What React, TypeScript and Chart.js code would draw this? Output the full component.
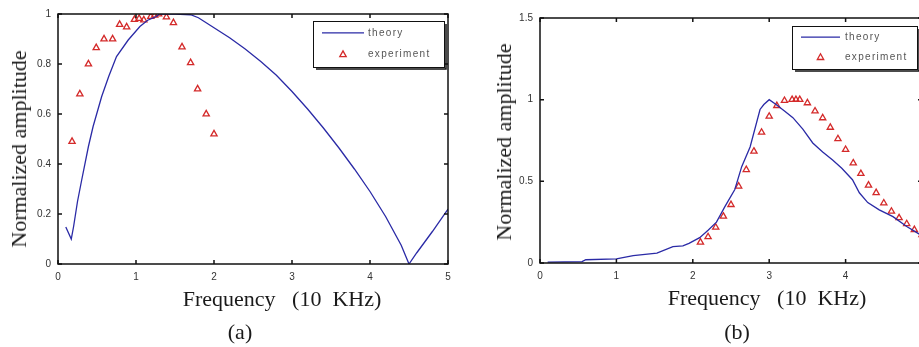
import React, { useEffect, useRef } from "react";
import { Chart, registerables } from "chart.js";

Chart.register(...registerables);

// ---------- Data ----------
const xTicks = [0, 1, 2, 3, 4, 5];
const leftYTicks = [0, 0.2, 0.4, 0.6, 0.8, 1];
const rightYTicks = [0, 0.5, 1, 1.5];

const leftTheoryX = [0.1, 0.17, 0.2, 0.25, 0.3, 0.39, 0.45, 0.56, 0.65, 0.75, 0.9, 1.05, 1.15, 1.26, 1.3, 1.5, 1.7, 1.8, 1.9, 2.0, 2.2, 2.4, 2.6, 2.8, 3.0, 3.2, 3.4, 3.6, 3.8, 4.0, 4.2, 4.4, 4.5, 4.6, 4.8, 5.0];
const leftTheoryY = [0.148, 0.1, 0.15, 0.25, 0.33, 0.47, 0.55, 0.67, 0.75, 0.83, 0.896, 0.95, 0.975, 0.99, 1.0, 1.0, 0.997, 0.985, 0.965, 0.945, 0.905, 0.86, 0.81, 0.755, 0.69, 0.62, 0.545, 0.465, 0.38, 0.29, 0.19, 0.075, 0.0, 0.045, 0.13, 0.22];

const leftExpX = [0.18, 0.28, 0.39, 0.49, 0.59, 0.7, 0.79, 0.88, 0.98, 1.04, 1.1, 1.19, 1.24, 1.29, 1.39, 1.48, 1.59, 1.7, 1.79, 1.9, 2.0];
const leftExpY = [0.49, 0.68, 0.8, 0.865, 0.9, 0.9, 0.958, 0.948, 0.978, 0.982, 0.976, 0.99, 0.995, 1.0, 0.988, 0.965, 0.868, 0.805, 0.7, 0.6, 0.52];

const rightTheoryX = [0.1, 0.55, 0.6, 1.0, 1.22, 1.53, 1.74, 1.87, 1.95, 2.09, 2.2, 2.31, 2.42, 2.55, 2.64, 2.75, 2.88, 2.93, 3.0, 3.09, 3.2, 3.31, 3.44, 3.57, 3.7, 3.83, 3.95, 4.09, 4.18, 4.29, 4.44, 4.62, 4.8, 4.97];
const rightTheoryY = [0.005, 0.008, 0.02, 0.025, 0.045, 0.06, 0.1, 0.105, 0.12, 0.155, 0.2, 0.25, 0.345, 0.45, 0.59, 0.71, 0.94, 0.97, 1.0, 0.97, 0.93, 0.89, 0.82, 0.735, 0.68, 0.63, 0.58, 0.51, 0.43, 0.37, 0.325, 0.284, 0.223, 0.175];

const rightExpX = [2.1, 2.2, 2.3, 2.4, 2.5, 2.6, 2.7, 2.8, 2.9, 3.0, 3.1, 3.2, 3.3, 3.35, 3.4, 3.5, 3.6, 3.7, 3.8, 3.9, 4.0, 4.1, 4.2, 4.3, 4.4, 4.5, 4.6, 4.7, 4.8, 4.9, 5.0];
const rightExpY = [0.127, 0.16, 0.218, 0.286, 0.357, 0.47, 0.571, 0.684, 0.8, 0.898, 0.963, 0.994, 1.0, 1.0, 1.0, 0.98, 0.93, 0.888, 0.83, 0.76, 0.694, 0.612, 0.547, 0.476, 0.43, 0.367, 0.316, 0.276, 0.24, 0.204, 0.173];

const seriesNames = ["theory", "experiment"];
const xTitle = "Frequency   (10  KHz)";
const yTitle = "Normalized amplitude";

const BLUE = "#2a2aa6";
const RED = "#d42a2a";

const zip = (xs: number[], ys: number[]) => xs.map((x, i) => ({ x, y: ys[i] }));
const fmt = (v: any) => String(Number(Number(v).toFixed(2)));

// ---------- Plugins ----------
const boxTicksPlugin = {
  id: "boxTicks",
  afterDraw(chart: any) {
    const { ctx, chartArea: a, scales } = chart;
    const len = 4;
    ctx.save();
    ctx.strokeStyle = "#111";
    ctx.lineWidth = 1.5;
    ctx.beginPath();
    scales.x.ticks.forEach((t: any) => {
      const px = scales.x.getPixelForValue(t.value);
      ctx.moveTo(px, a.bottom);
      ctx.lineTo(px, a.bottom - len);
      ctx.moveTo(px, a.top);
      ctx.lineTo(px, a.top + len);
    });
    scales.y.ticks.forEach((t: any) => {
      const py = scales.y.getPixelForValue(t.value);
      ctx.moveTo(a.left, py);
      ctx.lineTo(a.left + len, py);
      ctx.moveTo(a.right, py);
      ctx.lineTo(a.right - len, py);
    });
    ctx.stroke();
    ctx.strokeRect(a.left, a.top, a.right - a.left, a.bottom - a.top);
    ctx.restore();
  },
};

const innerLegendPlugin = {
  id: "innerLegend",
  afterDraw(chart: any, _args: any, opts: any) {
    const { ctx, chartArea: a } = chart;
    const w = opts.width, h = opts.height;
    const left = a.right - opts.right - w;
    const top = a.top + opts.top;
    ctx.save();
    ctx.fillStyle = "#fff";
    ctx.fillRect(left, top, w, h);
    ctx.strokeStyle = "#111";
    ctx.lineWidth = 1;
    ctx.strokeRect(left + 0.5, top + 0.5, w, h);
    ctx.lineWidth = 1.5;
    ctx.beginPath();
    ctx.moveTo(left + w + 2, top + 3);
    ctx.lineTo(left + w + 2, top + h + 2);
    ctx.lineTo(left + 3, top + h + 2);
    ctx.stroke();
    const ds = chart.data.datasets;
    const y1 = top + h * 0.26;
    const y2 = top + h * 0.72;
    ctx.strokeStyle = ds[0].borderColor;
    ctx.lineWidth = 1.3;
    ctx.beginPath();
    ctx.moveTo(left + 9, y1);
    ctx.lineTo(left + opts.lineLen + 9, y1);
    ctx.stroke();
    const mx = left + 9 + opts.lineLen / 2;
    const r = 3.2;
    ctx.strokeStyle = ds[1].borderColor;
    ctx.lineWidth = 1.3;
    ctx.beginPath();
    ctx.moveTo(mx, y2 - r);
    ctx.lineTo(mx + r, y2 + r * 0.8);
    ctx.lineTo(mx - r, y2 + r * 0.8);
    ctx.closePath();
    ctx.stroke();
    ctx.fillStyle = "#555";
    ctx.font = "10px 'Liberation Sans', Arial, sans-serif";
    (ctx as any).letterSpacing = "1.3px";
    ctx.textBaseline = "middle";
    ctx.textAlign = "left";
    ctx.fillText(ds[0].label, left + opts.textX, y1);
    ctx.fillText(ds[1].label, left + opts.textX, y2);
    ctx.restore();
  },
};

type PanelProps = {
  theoryX: number[];
  theoryY: number[];
  expX: number[];
  expY: number[];
  yTicks: number[];
  yMax: number;
  width: number;
  padTop: number;
  padRight: number;
  yWidth: number;
  xHeight: number;
  legend: any;
};

function Panel(p: PanelProps) {
  const ref = useRef<HTMLCanvasElement | null>(null);
  useEffect(() => {
    if (!ref.current) return;
    const tickFont = { family: "'Liberation Sans', Arial, sans-serif", size: 10 };
    const chart = new Chart(ref.current, {
      type: "scatter",
      data: {
        datasets: [
          {
            label: seriesNames[0],
            data: zip(p.theoryX, p.theoryY),
            showLine: true,
            borderColor: BLUE,
            backgroundColor: BLUE,
            borderWidth: 1.3,
            pointRadius: 0,
            tension: 0,
          },
          {
            label: seriesNames[1],
            data: zip(p.expX, p.expY),
            showLine: false,
            pointStyle: "triangle",
            pointRadius: 3.6,
            borderColor: RED,
            backgroundColor: "rgba(255,255,255,0)",
            pointBorderWidth: 1.3,
          } as any,
        ],
      },
      options: {
        animation: false,
        responsive: false,
        maintainAspectRatio: false,
        events: [],
        layout: { padding: { left: 0, top: p.padTop, right: p.padRight, bottom: 0 } },
        plugins: {
          legend: { display: false },
          title: { display: false },
          tooltip: { enabled: false },
          innerLegend: p.legend,
        } as any,
        scales: {
          x: {
            type: "linear",
            min: 0,
            max: 5,
            grid: { display: false, drawTicks: false },
            border: { display: false },
            afterBuildTicks: (s: any) => {
              s.ticks = xTicks.map((v) => ({ value: v }));
            },
            afterFit: (s: any) => {
              s.height = p.xHeight;
            },
            ticks: { autoSkip: false, maxRotation: 0, padding: 7, color: "#333", font: tickFont, callback: fmt },
          },
          y: {
            type: "linear",
            min: 0,
            max: p.yMax,
            grid: { display: false, drawTicks: false },
            border: { display: false },
            afterBuildTicks: (s: any) => {
              s.ticks = p.yTicks.map((v) => ({ value: v }));
            },
            afterFit: (s: any) => {
              s.width = p.yWidth;
            },
            ticks: { autoSkip: false, padding: 7, color: "#333", font: tickFont, callback: fmt },
          },
        },
      },
      plugins: [boxTicksPlugin, innerLegendPlugin],
    });
    return () => chart.destroy();
  }, []);
  return <canvas ref={ref} width={p.width} height={347} style={{ display: "block", width: p.width, height: 347 }} />;
}

const serif = "'Liberation Serif', 'Times New Roman', serif";

function Label(props: { x: number; y: number; text: string; size: number; rotate?: boolean }) {
  return (
    <div
      style={{
        position: "absolute",
        left: props.x,
        top: props.y,
        transform: `translate(-50%, -50%)${props.rotate ? " rotate(-90deg)" : ""}`,
        fontFamily: serif,
        fontSize: props.size,
        color: "#1a1a1a",
        whiteSpace: "pre",
        lineHeight: 1,
      }}
    >
      {props.text}
    </div>
  );
}

export default function App() {
  return (
    <div
      style={{
        position: "fixed",
        left: 0,
        top: 0,
        width: 919,
        height: 347,
        overflow: "hidden",
        background: "#fff",
      }}
    >
      <div style={{ position: "absolute", left: 0, top: 0 }}>
        <Panel
          theoryX={leftTheoryX}
          theoryY={leftTheoryY}
          expX={leftExpX}
          expY={leftExpY}
          yTicks={leftYTicks}
          yMax={1}
          width={460}
          padTop={14}
          padRight={12}
          yWidth={58}
          xHeight={83}
          legend={{ width: 131, height: 46, right: 4, top: 7, lineLen: 42, textX: 55 }}
        />
      </div>
      <div style={{ position: "absolute", left: 460, top: 0 }}>
        <Panel
          theoryX={rightTheoryX}
          theoryY={rightTheoryY}
          expX={rightExpX}
          expY={rightExpY}
          yTicks={rightYTicks}
          yMax={1.5}
          width={480}
          padTop={18}
          padRight={18}
          yWidth={80}
          xHeight={84}
          legend={{ width: 125, height: 43, right: 5, top: 8, lineLen: 39, textX: 53 }}
        />
      </div>
      <Label x={19} y={149} text={yTitle} size={22} rotate />
      <Label x={282} y={299} text={xTitle} size={22} />
      <Label x={240} y={332} text="(a)" size={22} />
      <Label x={504} y={142} text={yTitle} size={22} rotate />
      <Label x={767} y={298} text={xTitle} size={22} />
      <Label x={737} y={332} text="(b)" size={22} />
    </div>
  );
}
